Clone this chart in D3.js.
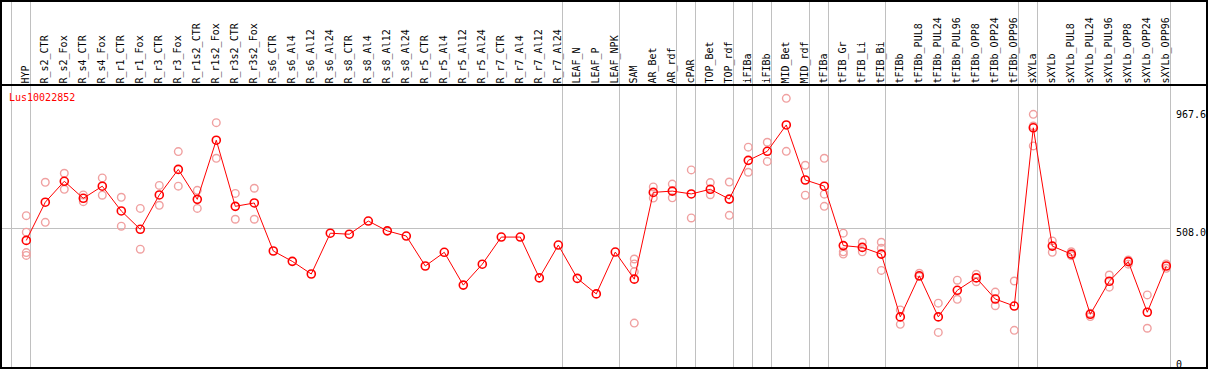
<!DOCTYPE html>
<html><head><meta charset="utf-8">
<script src="https://cdn.jsdelivr.net/npm/d3@7/dist/d3.min.js"></script>
<style>
body{margin:0;background:#fff;}
text{font-family:"DejaVu Sans Mono",monospace;font-size:10px;}
</style>
</head><body>
<svg id="chart" width="1209" height="370"></svg>
<script>
const categories = ["HYP","R_s2_CTR","R_s2_Fox","R_s4_CTR","R_s4_Fox","R_r1_CTR","R_r1_Fox","R_r3_CTR","R_r3_Fox","R_r1s2_CTR","R_r1s2_Fox","R_r3s2_CTR","R_r3s2_Fox","R_s6_CTR","R_s6_Al4","R_s6_Al12","R_s6_Al24","R_s8_CTR","R_s8_Al4","R_s8_Al12","R_s8_Al24","R_r5_CTR","R_r5_Al4","R_r5_Al12","R_r5_Al24","R_r7_CTR","R_r7_Al4","R_r7_Al12","R_r7_Al24","LEAF_N","LEAF_P","LEAF_NPK","SAM","AR_Bet","AR_rdf","cPAR","TOP_Bet","TOP_rdf","iFIBa","iFIBb","MID_Bet","MID_rdf","tFIBa","tFIB_Gr","tFIB_Li","tFIB_Bi","tFIBb","tFIBb_PUL8","tFIBb_PUL24","tFIBb_PUL96","tFIBb_OPP8","tFIBb_OPP24","tFIBb_OPP96","sXYLa","sXYLb","sXYLb_PUL8","sXYLb_PUL24","sXYLb_PUL96","sXYLb_OPP8","sXYLb_OPP24","sXYLb_OPP96"];

const means = [461,609,690,624,671,575,504,637,736,620,849,593,606,420,380,331,489,485,536,498,478,362,415,288,369,474,474,316,443,314,254,416,311,647,652,641,659,621,771,806,908,695,671,441,434,408,165,324,165,268,316,234,207,897,439,408,175,303,379,183,362];

const replicates = [
  [557,493,414,403],[686,531],[721,659],[637,611],[703,636],[628,516],[585,427],[674,597],[805,671],[655,585],[917,779],[643,543],[663,543],
  [],[],[],[],[],[],[],[],[],[],[],[],[],[],[],[],[],[],[],
  [389,370,340,141],[668,625],[679,626],[734,548],[685,638],[687,558],[822,725],[841,767],[1011,806],[752,636],[779,640,593],
  [489,417,408],[454,417],[454,431,345],[192,136],[334,321],[218,105],[307,233],[330,301],[261,208],[304,113],
  [949,904,827],[459,415],[417,402],[179,166],[327,280],[385,369],[250,121],[370,353]
];

const dividersAfter = ["HYP","R_r7_Al24","LEAF_NPK","AR_rdf","cPAR","TOP_rdf","iFIBa","iFIBb","MID_rdf","tFIBa","tFIB_Bi","tFIBb_OPP96","sXYLa","sXYLb_OPP96"];
const yTicks = [0, 508.0, 967.6];
const yTickLabels = ["0", "508.0", "967.6"];
const gridValues = [508.0];
const geneName = "Lus10022852";

const W = 1209, H = 370;
const plotLeft = 11, plotRight = 1170, headerBottom = 85, frameBottom = 368;
const svg = d3.select("#chart");

const x = d3.scaleBand().domain(categories).range([plotLeft, plotRight]).paddingInner(0).paddingOuter(0);
const px = c => x(c) + x.bandwidth() * 0.805;
const y = d3.scaleLinear().domain([0, 1000]).range([359.5, 101.2]);

// dividers
const divX = [plotLeft].concat(dividersAfter.map(c => x(c) + x.bandwidth()));
svg.append("g").selectAll("line").data(divX).join("line")
  .attr("x1", d => Math.round(d) + 0.5).attr("x2", d => Math.round(d) + 0.5)
  .attr("y1", 1).attr("y2", frameBottom)
  .attr("stroke", "#c0c0c0").attr("stroke-width", 1);

// grid line
svg.append("g").selectAll("line").data(gridValues).join("line")
  .attr("x1", 1).attr("x2", plotRight)
  .attr("y1", d => Math.round(y(d)) + 0.5).attr("y2", d => Math.round(y(d)) + 0.5)
  .attr("stroke", "#c0c0c0").attr("stroke-width", 1);

// header labels
svg.append("g").selectAll("text").data(categories).join("text")
  .attr("transform", d => `translate(${px(d) + 3},83.5) rotate(-90)`)
  .attr("fill", "#000")
  .text(d => d);

// header separator
svg.append("line").attr("x1", 1).attr("x2", 1207).attr("y1", 85).attr("y2", 85)
  .attr("stroke", "#000").attr("stroke-width", 2);

// y tick labels
svg.append("g").selectAll("text").data(yTicks).join("text")
  .attr("x", 1176).attr("y", d => y(d) + 1)
  .attr("dominant-baseline", "hanging")
  .attr("fill", "#000")
  .text((d, i) => yTickLabels[i]);

// gene name
svg.append("text").attr("x", 9).attr("y", 100.5).attr("fill", "#ff0000").text(geneName);

// replicates
const repData = [];
categories.forEach((c, i) => replicates[i].forEach(v => repData.push({c, v})));
svg.append("g").selectAll("circle").data(repData).join("circle")
  .attr("cx", d => px(d.c)).attr("cy", d => y(d.v)).attr("r", 3.8)
  .attr("fill", "none").attr("stroke", "#f0a0a0").attr("stroke-width", 1.4);

// mean line
const line = d3.line().x((d, i) => px(categories[i])).y(d => y(d));
svg.append("path").datum(means).attr("d", line)
  .attr("fill", "none").attr("stroke", "#ff0000").attr("stroke-width", 1);

// mean markers
svg.append("g").selectAll("circle").data(means).join("circle")
  .attr("cx", (d, i) => px(categories[i])).attr("cy", d => y(d)).attr("r", 4)
  .attr("fill", "none").attr("stroke", "#ff0000").attr("stroke-width", 1.6);

// frame
svg.append("rect").attr("x", 1).attr("y", 1).attr("width", 1206).attr("height", frameBottom - 1)
  .attr("fill", "none").attr("stroke", "#000").attr("stroke-width", 2);
</script>
</body></html>
